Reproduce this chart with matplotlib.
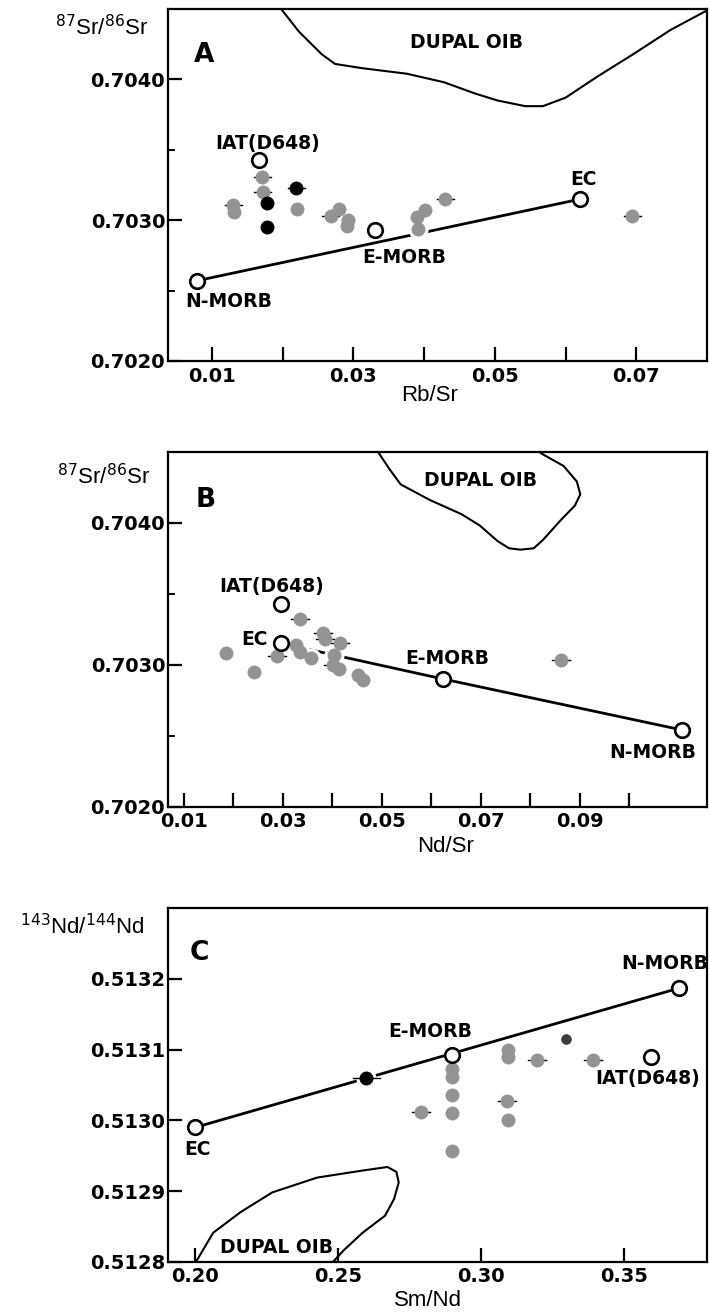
import matplotlib
matplotlib.use("Agg")
import matplotlib.pyplot as plt

# ---------------- Panel A : Rb/Sr vs 87Sr/86Sr ----------------
a_grey_x = [0.0130, 0.0131, 0.0171, 0.0172, 0.0220, 0.0268, 0.0280, 0.0291, 0.0292,
            0.0390, 0.0391, 0.0402, 0.0430, 0.0694]
a_grey_y = [0.70311, 0.70306, 0.70331, 0.70320, 0.70308, 0.70303, 0.70308, 0.70296,
            0.70300, 0.70302, 0.70294, 0.70307, 0.70315, 0.70303]
a_grey_err = [0.0012, 0, 0.0012, 0.0012, 0, 0.0012, 0, 0, 0, 0, 0, 0, 0.0012, 0.0012]
a_black_x = [0.0178, 0.0178, 0.0219]
a_black_y = [0.70312, 0.70295, 0.70323]
a_black_err = [0, 0, 0.0012]
a_end_names = ["N-MORB", "E-MORB", "EC", "IAT(D648)"]
a_end_x = [0.0079, 0.0331, 0.0621, 0.0167]
a_end_y = [0.70257, 0.70293, 0.70315, 0.70343]
a_dupal_x = [0.0192, 0.0198, 0.0223, 0.0255, 0.0274, 0.0312, 0.0376, 0.0428, 0.0472,
             0.0504, 0.0543, 0.0568, 0.0600, 0.0645, 0.0696, 0.0748, 0.0800]
a_dupal_y = [0.70460, 0.70450, 0.70434, 0.70418, 0.70411, 0.70408, 0.70404, 0.70398,
             0.70390, 0.70385, 0.70381, 0.70381, 0.70387, 0.70402, 0.70418, 0.70435, 0.70449]

# ---------------- Panel B : Nd/Sr vs 87Sr/86Sr ----------------
b_grey_x = [0.0185, 0.0242, 0.0288, 0.0335, 0.0327, 0.0335, 0.0357, 0.0381, 0.0385,
            0.0415, 0.0403, 0.0402, 0.0414, 0.0452, 0.0461, 0.0862]
b_grey_y = [0.70308, 0.70295, 0.70306, 0.70332, 0.70314, 0.70309, 0.70305, 0.70322,
            0.70318, 0.70315, 0.70307, 0.70300, 0.70297, 0.70293, 0.70289, 0.70303]
b_grey_err = [0, 0, 0.0018, 0.0018, 0, 0, 0, 0.0018, 0.0018, 0.0018, 0, 0.0018, 0, 0, 0, 0.0018]
b_end_names = ["N-MORB", "E-MORB", "EC", "IAT(D648)"]
b_end_x = [0.1107, 0.0623, 0.0297, 0.0297]
b_end_y = [0.70254, 0.70290, 0.70315, 0.70343]
b_dupal_x = [0.0490, 0.0492, 0.0515, 0.0538, 0.0597, 0.0661, 0.0698, 0.0734, 0.0757,
             0.0780, 0.0807, 0.0826, 0.0862, 0.0890, 0.0901, 0.0894, 0.0867, 0.0821, 0.0812]
b_dupal_y = [0.70460, 0.70450, 0.70438, 0.70427, 0.70416, 0.70406, 0.70398, 0.70387,
             0.70382, 0.70381, 0.70382, 0.70388, 0.70402, 0.70412, 0.70420, 0.70429,
             0.70440, 0.70449, 0.70460]

# ---------------- Panel C : Sm/Nd vs 143Nd/144Nd ----------------
c_grey_x = [0.2792, 0.2900, 0.2900, 0.2900, 0.2900, 0.2900, 0.3095, 0.3095, 0.3092,
            0.3095, 0.3195, 0.3393]
c_grey_y = [0.513012, 0.513072, 0.513062, 0.513036, 0.513011, 0.512956, 0.513100,
            0.513090, 0.513028, 0.513000, 0.513085, 0.513085]
c_grey_err = [0.0031, 0, 0, 0, 0, 0, 0, 0, 0.0031, 0, 0.0031, 0.0031]
c_black_x = [0.2599]
c_black_y = [0.513060]
c_black_err = [0.0047]
c_dark_x = [0.3296]
c_dark_y = [0.513115]
c_end_names = ["EC", "E-MORB", "N-MORB", "IAT(D648)"]
c_end_x = [0.2002, 0.2898, 0.3692, 0.3593]
c_end_y = [0.512990, 0.513092, 0.513187, 0.513090]
c_dupal_x = [0.2005, 0.2065, 0.2160, 0.2271, 0.2428, 0.2587, 0.2674, 0.2705, 0.2713,
             0.2697, 0.2665, 0.2587, 0.2523, 0.2484]
c_dupal_y = [0.512800, 0.512841, 0.512870, 0.512898, 0.512919, 0.512929, 0.512934,
             0.512927, 0.512912, 0.512889, 0.512865, 0.512841, 0.512817, 0.512800]

GREY = "#939393"
TICKFONT = dict(family="DejaVu Sans", weight="bold", size=14)
LABFONT = dict(family="DejaVu Sans", weight="bold", size=13.5)
AXFONT = dict(family="Liberation Sans", size=16)

W, H = 709, 1312
fig = plt.figure(figsize=(W / 100, H / 100), dpi=100)


def make_axes(top, bottom):
    return fig.add_axes([168 / W, 1 - bottom / H, 539 / W, (bottom - top) / H])


def style(ax, xlim, ylim, xticks, xlabels, yticks, ylabels, yminor):
    ax.set_xlim(*xlim)
    ax.set_ylim(*ylim)
    ax.set_xticks(xticks)
    ax.set_xticklabels(xlabels, **TICKFONT)
    ax.set_yticks(yticks)
    ax.set_yticklabels(ylabels, **TICKFONT)
    ax.set_yticks(yminor, minor=True)
    ax.tick_params(which="major", direction="in", length=10, width=1.6, pad=4)
    ax.tick_params(which="minor", direction="in", length=5, width=1.4)
    ax.tick_params(axis="y", pad=2)
    for s in ax.spines.values():
        s.set_linewidth(1.6)


def draw_points(ax, xs, ys, errs, color, ms=9.5):
    ax.plot(xs, ys, "o", ms=ms + 4, color="white", mec="white", zorder=2)
    for x, y, e in zip(xs, ys, errs):
        if e > 0:
            ax.plot([x - e, x + e], [y, y], color="black", lw=1.0, zorder=2.5)
    ax.plot(xs, ys, "o", ms=ms, color=color, mec=color, mew=0.5, zorder=3)


def draw_ends(ax, xs, ys):
    ax.plot(xs, ys, "o", ms=10.5, mfc="white", mec="black", mew=1.9, zorder=4)


def label_ends(ax, names, xs, ys, offsets):
    for n, x, y in zip(names, xs, ys):
        dx, dy = offsets[n]
        ax.annotate(n, (x, y), xytext=(dx, dy), textcoords="offset pixels",
                    ha="center", va="center", zorder=5, **LABFONT)


# ---------- A ----------
axA = make_axes(9, 361)
style(axA, (0.0038, 0.0800), (0.7020, 0.7045),
      [0.01, 0.02, 0.03, 0.04, 0.05, 0.06, 0.07],
      ["0.01", "", "0.03", "", "0.05", "", "0.07"],
      [0.7020, 0.7030, 0.7040], ["0.7020", "0.7030", "0.7040"], [0.7025, 0.7035])
axA.plot(a_dupal_x, a_dupal_y, color="black", lw=1.5, zorder=1)
axA.plot([a_end_x[0], a_end_x[2]], [a_end_y[0], a_end_y[2]], color="black", lw=2.0, zorder=1)
draw_points(axA, a_grey_x, a_grey_y, a_grey_err, GREY)
draw_points(axA, a_black_x, a_black_y, a_black_err, "black")
draw_ends(axA, a_end_x, a_end_y)
label_ends(axA, a_end_names, a_end_x, a_end_y,
           {"N-MORB": (32, -21), "E-MORB": (29, -27), "EC": (3, 20), "IAT(D648)": (8, 16)})
axA.text(0.0460, 0.70426, "DUPAL OIB", ha="center", va="center", **LABFONT)
axA.text(0.0089, 0.70417, "A", ha="center", va="center", family="DejaVu Sans",
         weight="bold", size=19)
fig.text(102 / W, 1 - 28 / H, r"$^{87}$Sr/$^{86}$Sr", ha="center", va="center", **AXFONT)
fig.text(430 / W, 1 - 396 / H, "Rb/Sr", ha="center", va="center", **AXFONT)

# ---------- B ----------
axB = make_axes(451.7, 806.7)
style(axB, (0.0068, 0.1157), (0.7020, 0.7045),
      [0.01, 0.02, 0.03, 0.04, 0.05, 0.06, 0.07, 0.08, 0.09, 0.10],
      ["0.01", "", "0.03", "", "0.05", "", "0.07", "", "0.09", ""],
      [0.7020, 0.7030, 0.7040], ["0.7020", "0.7030", "0.7040"], [0.7025, 0.7035])
axB.plot(b_dupal_x, b_dupal_y, color="black", lw=1.5, zorder=1)
axB.plot(b_end_x[:3], b_end_y[:3], color="black", lw=2.0, zorder=1)
draw_points(axB, b_grey_x, b_grey_y, b_grey_err, GREY)
draw_ends(axB, b_end_x, b_end_y)
label_ends(axB, b_end_names, b_end_x, b_end_y,
           {"N-MORB": (-30, -22), "E-MORB": (5, 20), "EC": (-27, 4), "IAT(D648)": (-10, 17)})
axB.text(0.0700, 0.70430, "DUPAL OIB", ha="center", va="center", **LABFONT)
axB.text(0.0145, 0.70416, "B", ha="center", va="center", family="DejaVu Sans",
         weight="bold", size=19)
fig.text(104 / W, 1 - 477 / H, r"$^{87}$Sr/$^{86}$Sr", ha="center", va="center", **AXFONT)
fig.text(446 / W, 1 - 847 / H, "Nd/Sr", ha="center", va="center", **AXFONT)

# ---------- C ----------
axC = make_axes(908.3, 1261.7)
style(axC, (0.1907, 0.3790), (0.5128, 0.5133),
      [0.20, 0.25, 0.30, 0.35], ["0.20", "0.25", "0.30", "0.35"],
      [0.5128, 0.5129, 0.5130, 0.5131, 0.5132],
      ["0.5128", "0.5129", "0.5130", "0.5131", "0.5132"], [])
axC.plot(c_dupal_x, c_dupal_y, color="black", lw=1.5, zorder=1)
axC.plot([c_end_x[0], c_end_x[2]], [c_end_y[0], c_end_y[2]], color="black", lw=2.0, zorder=1)
draw_points(axC, c_grey_x, c_grey_y, c_grey_err, GREY)
draw_points(axC, c_black_x, c_black_y, c_black_err, "black")
draw_points(axC, c_dark_x, c_dark_y, [0], "#3a3a3a", ms=7)
draw_ends(axC, c_end_x, c_end_y)
label_ends(axC, c_end_names, c_end_x, c_end_y,
           {"N-MORB": (-14, 25), "E-MORB": (-21, 24), "EC": (2, -22), "IAT(D648)": (-3, -22)})
axC.text(0.2286, 0.51282, "DUPAL OIB", ha="center", va="center", zorder=5, **LABFONT)
axC.text(0.2017, 0.513237, "C", ha="center", va="center", family="DejaVu Sans",
         weight="bold", size=19)
fig.text(82 / W, 1 - 927 / H, r"$^{143}$Nd/$^{144}$Nd", ha="center", va="center", **AXFONT)
fig.text(428 / W, 1 - 1300 / H, "Sm/Nd", ha="center", va="center", **AXFONT)

fig.savefig("out.png", dpi=100, facecolor="white")
